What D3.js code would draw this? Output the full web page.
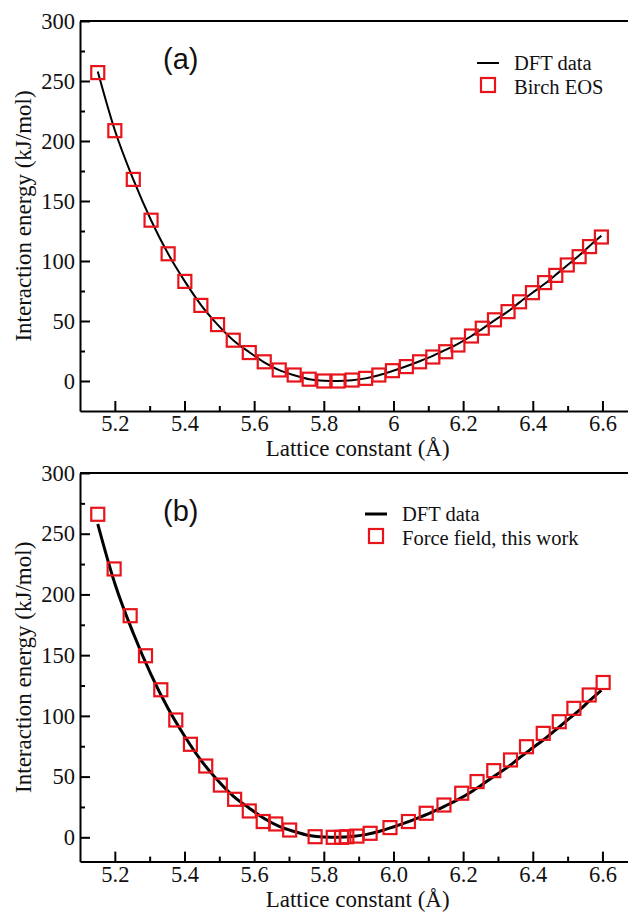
<!DOCTYPE html>
<html>
<head>
<meta charset="utf-8">
<script src="https://cdn.jsdelivr.net/npm/d3@7"></script>
<style>
  html, body { margin: 0; padding: 0; background: #fff; }
  svg { display: block; }
</style>
</head>
<body>
<svg id="chart" width="628" height="914"></svg>
<script>
// ---- Data ----
// Lattice constants (Å) of the DFT / Birch EOS grid
const latticeA = [5.151, 5.200, 5.253, 5.304, 5.353, 5.401, 5.447, 5.495, 5.540, 5.586,
  5.629, 5.672, 5.715, 5.758, 5.800, 5.841, 5.881, 5.920, 5.958, 5.997,
  6.037, 6.075, 6.113, 6.150, 6.185, 6.224, 6.255, 6.290, 6.329, 6.362,
  6.399, 6.434, 6.466, 6.499, 6.533, 6.563, 6.597];
// DFT interaction energy (kJ/mol), drawn as line in both panels
const dftEnergy = [258, 209, 168, 134, 106, 83, 63.5, 47, 34, 24,
  15.5, 9, 4.8, 1.5, 0.2, 0, 0.6, 2.2, 4.8, 8.3,
  12.3, 16.5, 21, 26, 31, 37.5, 43.5, 50.5, 58, 65.5,
  73.5, 81, 88.5, 96.5, 104.5, 112.5, 121];
// Birch EOS fit (panel a squares)
const birchEnergy = [257, 208.6, 168, 134, 106, 83, 63, 47, 34, 23.7,
  16, 9.2, 5, 1.5, 0, 0, 0.8, 2.2, 5, 8.6,
  12, 16, 20, 24.4, 30, 37.5, 44, 51, 57.8, 66,
  73.6, 82, 88, 96.7, 103.6, 112, 120];
// Force field, this work (panel b squares)
const ffLattice = [5.151, 5.198, 5.244, 5.288, 5.332, 5.375, 5.417, 5.461, 5.503, 5.544,
  5.586, 5.626, 5.662, 5.702, 5.775, 5.827, 5.851, 5.866, 5.895, 5.933,
  5.990, 6.043, 6.094, 6.145, 6.196, 6.240, 6.288, 6.336, 6.382, 6.430,
  6.476, 6.518, 6.562, 6.602];
const ffEnergy = [266, 221, 182.5, 149.5, 121.5, 96.6, 76.6, 58.7, 43, 31.3,
  21.7, 13, 11, 6, 0.5, 0, 0, 0.5, 1, 3.3,
  8, 13, 19.8, 26.6, 36.3, 45.9, 54.9, 63.7, 74.6, 85.6,
  95.2, 106.2, 117.2, 127.5];
// Tick values and labels
const xMajorTicks = [5.2, 5.4, 5.6, 5.8, 6.0, 6.2, 6.4, 6.6];
const xMinorTicks = [5.3, 5.5, 5.7, 5.9, 6.1, 6.3, 6.5];
const xLabelsA = ["5.2", "5.4", "5.6", "5.8", "6", "6.2", "6.4", "6.6"];
const xLabelsB = ["5.2", "5.4", "5.6", "5.8", "6.0", "6.2", "6.4", "6.6"];
const yMajorTicks = [0, 50, 100, 150, 200, 250, 300];
const yMinorTicks = [25, 75, 125, 175, 225, 275];
const legendA = ["DFT data", "Birch EOS"];
const legendB = ["DFT data", "Force field, this work"];

// ---- Drawing ----
const svg = d3.select("#chart");
const RED = "#e8141c";
const SERIF = "'Liberation Serif', 'Times New Roman', serif";
const SANS = "'Liberation Sans', Arial, sans-serif";

function drawPanel(cfg) {
  const x = d3.scaleLinear().domain([5.1, 6.7]).range([80, 80 + 1.6 * 348.3]);
  const y = d3.scaleLinear().domain(cfg.yDomain).range(cfg.yRange);
  const g = svg.append("g");

  // top spine
  g.append("line")
    .attr("x1", x(5.1)).attr("x2", x(6.7))
    .attr("y1", y(300)).attr("y2", y(300))
    .attr("stroke", "#000").attr("stroke-width", 2);

  // x axis (ticks pointing inward)
  const xAxis = d3.axisBottom(x).tickValues(xMajorTicks)
    .tickFormat((d, i) => cfg.xLabels[i]).tickSizeInner(-10).tickSizeOuter(0).tickPadding(4.5);
  const gx = g.append("g").attr("transform", `translate(0,${y(cfg.yDomain[0])})`).call(xAxis);
  const xMinor = d3.axisBottom(x).tickValues(xMinorTicks).tickFormat("").tickSizeInner(-5).tickSizeOuter(0);
  const gxm = g.append("g").attr("transform", `translate(0,${y(cfg.yDomain[0])})`).call(xMinor);
  gxm.select(".domain").remove();

  // y axis
  const yAxis = d3.axisLeft(y).tickValues(yMajorTicks).tickFormat(d3.format("d"))
    .tickSizeInner(-10).tickSizeOuter(0).tickPadding(5);
  const gy = g.append("g").attr("transform", `translate(${x(5.1)},0)`).call(yAxis);
  const yMinor = d3.axisLeft(y).tickValues(yMinorTicks).tickFormat("").tickSizeInner(-5).tickSizeOuter(0);
  const gym = g.append("g").attr("transform", `translate(${x(5.1)},0)`).call(yMinor);
  gym.select(".domain").remove();

  [gx, gy, gxm, gym].forEach(a => {
    a.selectAll(".domain").attr("stroke", "#000").attr("stroke-width", 2);
    a.selectAll(".tick line").attr("stroke", "#000").attr("stroke-width", 2);
    a.selectAll(".tick text").attr("font-family", SERIF).attr("font-size", 22.5).attr("fill", "#111");
  });

  // axis titles
  g.append("text")
    .attr("x", (x(5.1) + x(6.7)) / 2 - 1).attr("y", cfg.xTitleY)
    .attr("text-anchor", "middle").attr("font-family", SERIF).attr("font-size", 23).attr("fill", "#111")
    .text("Lattice constant (Å)");
  g.append("text")
    .attr("transform", `translate(31,${(y(300) + y(cfg.yDomain[0])) / 2}) rotate(-90)`)
    .attr("text-anchor", "middle").attr("font-family", SERIF).attr("font-size", 23).attr("fill", "#111")
    .text("Interaction energy (kJ/mol)");

  // DFT line
  const line = d3.line().x(d => x(d[0])).y(d => y(d[1])).curve(d3.curveMonotoneX);
  g.append("path")
    .datum(latticeA.map((a, i) => [a, dftEnergy[i]]))
    .attr("d", line).attr("fill", "none").attr("stroke", "#000").attr("stroke-width", cfg.lineW);

  // squares
  const S = 13;
  g.append("g").selectAll("rect")
    .data(cfg.sqX.map((a, i) => [a, cfg.sqY[i]]))
    .join("rect")
    .attr("x", d => x(d[0]) - S / 2).attr("y", d => y(d[1]) - S / 2)
    .attr("width", S).attr("height", S)
    .attr("fill", "none").attr("stroke", RED).attr("stroke-width", 2.2);

  // panel label
  g.append("text").attr("x", 163).attr("y", cfg.panelY)
    .attr("font-family", SANS).attr("font-size", 29).attr("fill", "#111").text(cfg.panel);

  // legend
  const L = cfg.legend;
  g.append("line").attr("x1", L.x).attr("x2", L.x + 22).attr("y1", L.y).attr("y2", L.y)
    .attr("stroke", "#000").attr("stroke-width", cfg.lineW);
  g.append("rect").attr("x", L.x + 11 - 7).attr("y", L.y + 22 - 7).attr("width", 14).attr("height", 14)
    .attr("fill", "none").attr("stroke", RED).attr("stroke-width", 2.2);
  cfg.legendText.forEach((t, i) => {
    g.append("text").attr("x", L.x + 37).attr("y", L.y + 7 + i * 23.5)
      .attr("font-family", SERIF).attr("font-size", 20.5).attr("fill", "#111").text(t);
  });
}

drawPanel({
  yDomain: [-25, 300], yRange: [411, 21],
  xLabels: xLabelsA, xTitleY: 456,
  sqX: latticeA, sqY: birchEnergy,
  lineW: 2, panel: "(a)", panelY: 69,
  legend: { x: 477, y: 63 }, legendText: legendA
});
drawPanel({
  yDomain: [-20, 300], yRange: [861.6, 473],
  xLabels: xLabelsB, xTitleY: 907,
  sqX: ffLattice, sqY: ffEnergy,
  lineW: 3, panel: "(b)", panelY: 521,
  legend: { x: 365, y: 514 }, legendText: legendB
});
</script>
</body>
</html>
